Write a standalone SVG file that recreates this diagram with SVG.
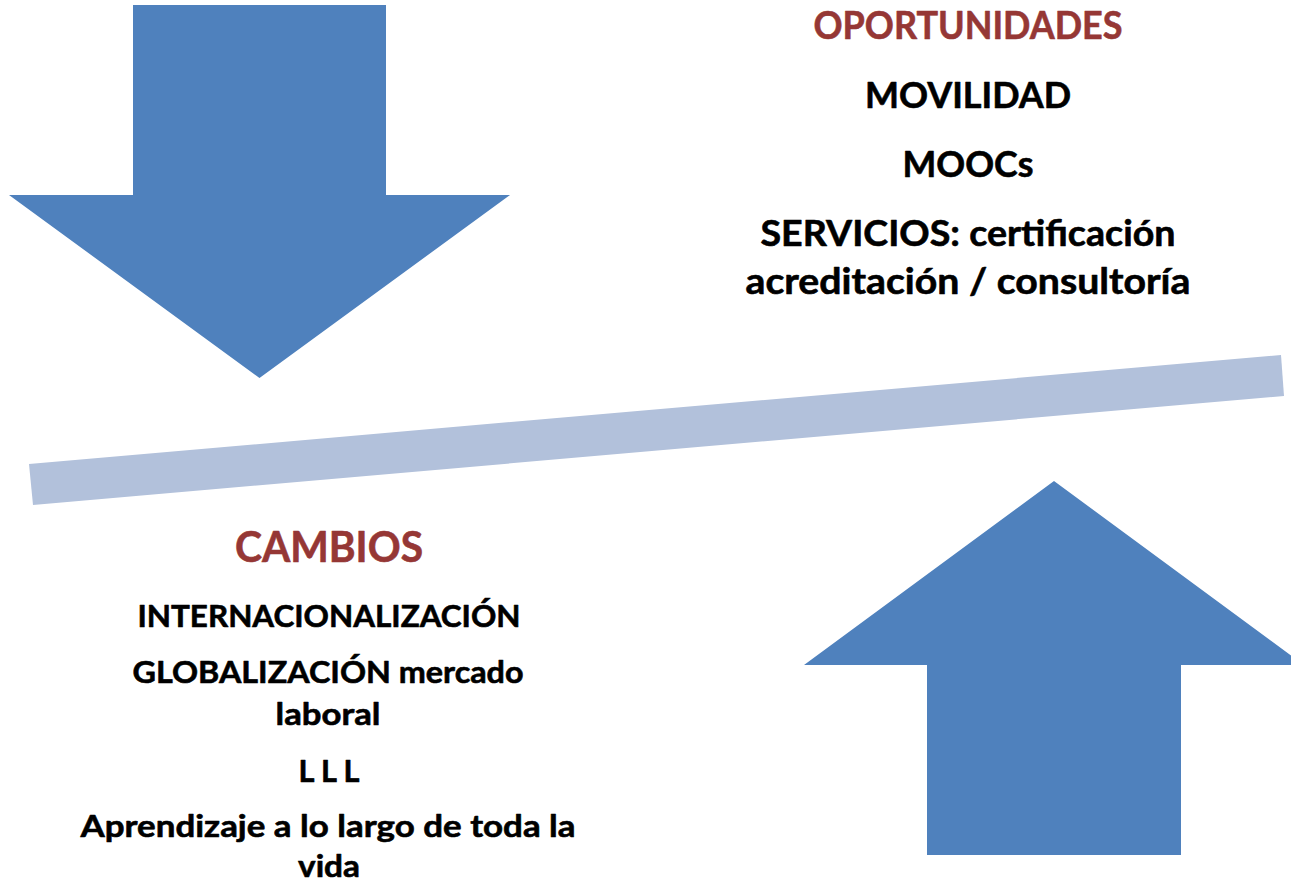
<svg xmlns="http://www.w3.org/2000/svg" width="1291" height="882" viewBox="0 0 1291 882">
<style>
.arrow{fill:#4F81BD}
.bar{fill:#B2C1DB}
text{font-family:Lato,"Open Sans","Liberation Sans",sans-serif;font-weight:bold;text-anchor:middle;stroke-width:0.6;stroke-linejoin:round}
.title{fill:#953735;stroke:#953735}
.body{fill:#000;stroke:#000}
</style>
<rect width="1291" height="882" fill="#fff"/>
<g id="arrow-down">
<polygon class="arrow" points="133,5 386,5 386,195 510,195 259.5,378 9,195 133,195"/>
</g>
<g id="balance-bar">
<polygon class="bar" points="29,464 1281,355 1284,396 33,505"/>
</g>
<g id="arrow-up">
<polygon class="arrow" points="1054,481 1304,665 1181,665 1181,855 927,855 927,665 804,665"/>
</g>
<g id="oportunidades">
<text class="title" x="968" y="39" font-size="39" textLength="309" lengthAdjust="spacingAndGlyphs">OPORTUNIDADES</text>
<text class="body" x="968" y="108" font-size="36" textLength="206" lengthAdjust="spacingAndGlyphs">MOVILIDAD</text>
<text class="body" x="968" y="177" font-size="36" textLength="131" lengthAdjust="spacingAndGlyphs">MOOCs</text>
<text class="body" x="968" y="246" font-size="36" textLength="415" lengthAdjust="spacingAndGlyphs">SERVICIOS: certificación</text>
<text class="body" x="968" y="294" font-size="36" textLength="445" lengthAdjust="spacingAndGlyphs">acreditación / consultoría</text>
</g>
<g id="cambios">
<text class="title" x="329" y="562" font-size="42" textLength="188" lengthAdjust="spacingAndGlyphs">CAMBIOS</text>
<text class="body" x="329" y="627" font-size="31" textLength="383" lengthAdjust="spacingAndGlyphs">INTERNACIONALIZACIÓN</text>
<text class="body" x="328" y="683" font-size="31" textLength="391" lengthAdjust="spacingAndGlyphs">GLOBALIZACIÓN mercado</text>
<text class="body" x="328" y="725" font-size="31" textLength="105" lengthAdjust="spacingAndGlyphs">laboral</text>
<text class="body" x="329" y="782" font-size="31" textLength="61" lengthAdjust="spacingAndGlyphs">L L L</text>
<text class="body" x="328" y="837" font-size="31" textLength="495" lengthAdjust="spacingAndGlyphs">Aprendizaje a lo largo de toda la</text>
<text class="body" x="329" y="877" font-size="31" textLength="62" lengthAdjust="spacingAndGlyphs">vida</text>
</g>
</svg>
